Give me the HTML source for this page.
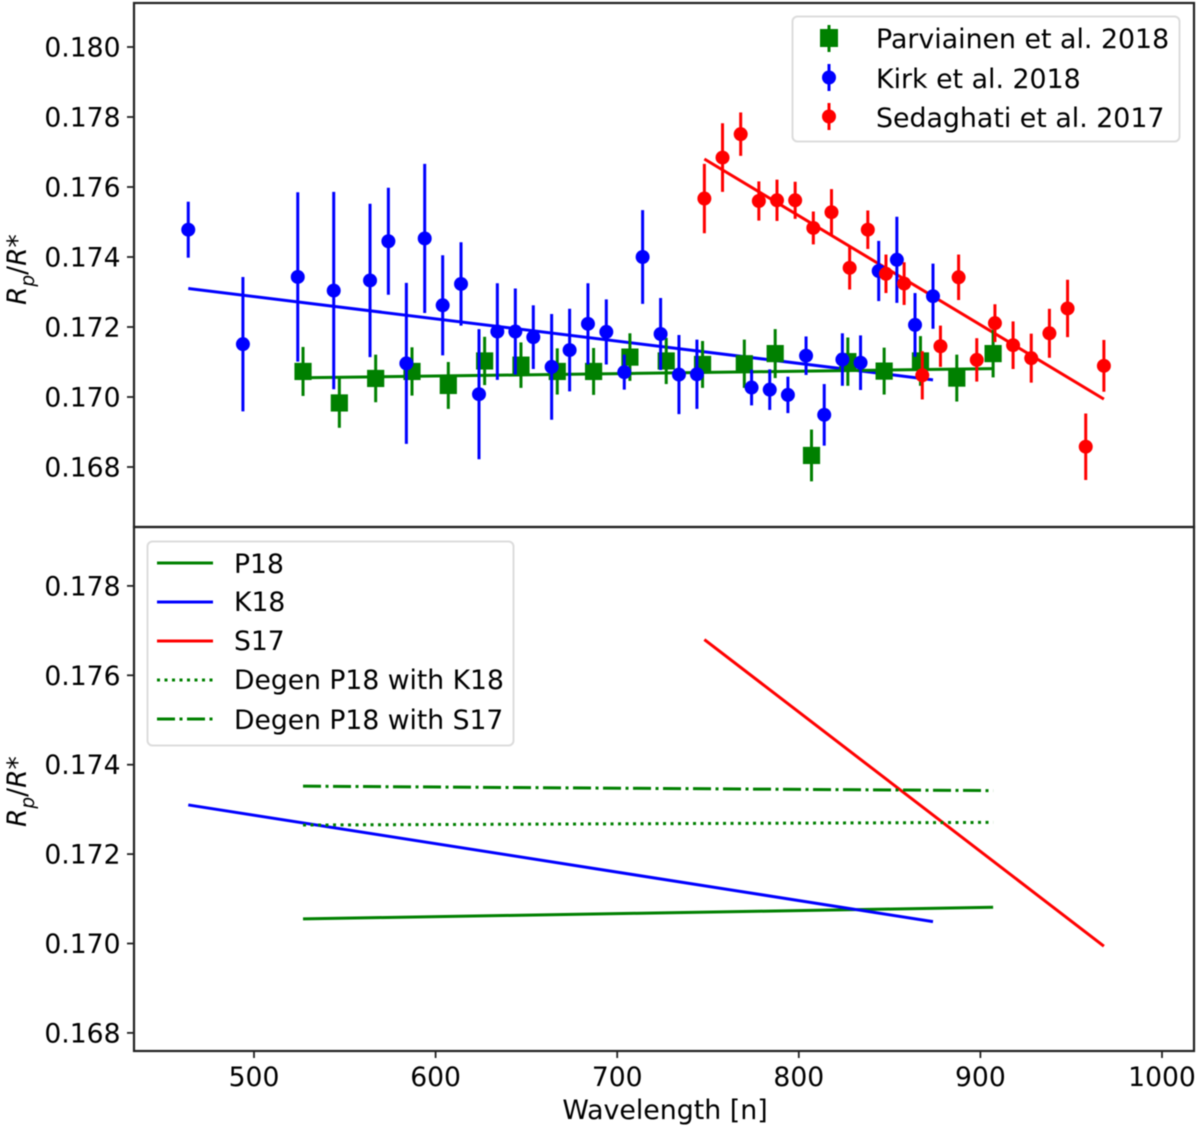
<!DOCTYPE html>
<html lang="en">
<head>
<meta charset="utf-8">
<title>Rp/R* vs wavelength</title>
<style>
html,body{margin:0;padding:0;background:#fff;}
svg{display:block;filter:blur(0.45px);}
text{font-family:"DejaVu Sans","Liberation Sans",sans-serif;fill:#000;}
</style>
</head>
<body>
<svg id="chart" xmlns="http://www.w3.org/2000/svg" width="1200" height="1131" viewBox="0 0 1200 1131">
  <rect x="0" y="0" width="1200" height="1131" fill="#fff"/>
  <g id="top-marks"></g>
  <g id="bottom-marks"></g>
  <g id="axes"></g>

  <text transform="translate(26,305) rotate(-90)" font-size="26.5" font-style="italic">R<tspan font-size="18.5" dy="8">p</tspan><tspan dy="-8" font-style="normal">/</tspan>R<tspan dy="0" font-style="normal">*</tspan></text>
  <text transform="translate(26,827) rotate(-90)" font-size="26.5" font-style="italic">R<tspan font-size="18.5" dy="8">p</tspan><tspan dy="-8" font-style="normal">/</tspan>R<tspan dy="0" font-style="normal">*</tspan></text>
  <text x="665" y="1119" font-size="26.8" text-anchor="middle">Wavelength [n]</text>

  <g>
    <rect x="792.5" y="16.5" width="387" height="125" rx="5" fill="#fff" fill-opacity="0.85" stroke="#dcdcdc" stroke-width="2"/>
    <g>
      <line x1="829" y1="25" x2="829" y2="52" stroke="#008000" stroke-width="3"/>
      <rect x="820" y="29" width="18" height="18" fill="#008000"/>
      <text x="876" y="48" font-size="26.8">Parviainen et al. 2018</text>
    </g>
    <g>
      <line x1="829" y1="64" x2="829" y2="91" stroke="#0000ff" stroke-width="3"/>
      <circle cx="829" cy="77.5" r="7" fill="#0000ff"/>
      <text x="876" y="88" font-size="26.8">Kirk et al. 2018</text>
    </g>
    <g>
      <line x1="829" y1="103" x2="829" y2="130" stroke="#ff0000" stroke-width="3"/>
      <circle cx="829" cy="116.5" r="7" fill="#ff0000"/>
      <text x="876" y="127" font-size="26.8">Sedaghati et al. 2017</text>
    </g>
  </g>

  <g>
    <rect x="147.5" y="541.5" width="366" height="204" rx="5" fill="#fff" fill-opacity="0.85" stroke="#dcdcdc" stroke-width="2"/>
    <g>
      <line x1="157" y1="563" x2="213" y2="563" stroke="#008000" stroke-width="3"/>
      <text x="234" y="573" font-size="26.6">P18</text>
    </g>
    <g>
      <line x1="157" y1="602" x2="213" y2="602" stroke="#0000ff" stroke-width="3"/>
      <text x="234" y="611" font-size="26.6">K18</text>
    </g>
    <g>
      <line x1="157" y1="641" x2="213" y2="641" stroke="#ff0000" stroke-width="3"/>
      <text x="234" y="650" font-size="26.6">S17</text>
    </g>
    <g>
      <line x1="157" y1="680" x2="213" y2="680" stroke="#008000" stroke-width="3" stroke-dasharray="3 4.5"/>
      <text x="234" y="689" font-size="26.6">Degen P18 with K18</text>
    </g>
    <g>
      <line x1="157" y1="719" x2="213" y2="719" stroke="#008000" stroke-width="3" stroke-dasharray="18 4.5 3 4.5"/>
      <text x="234" y="729" font-size="26.6">Degen P18 with S17</text>
    </g>
  </g>
</svg>

<script>
// ---- Tick labels ----
const xTickValues = [500, 600, 700, 800, 900, 1000];
const xTickLabels = ["500", "600", "700", "800", "900", "1000"];
const topYTickValues = [0.168, 0.170, 0.172, 0.174, 0.176, 0.178, 0.180];
const topYTickLabels = ["0.168", "0.170", "0.172", "0.174", "0.176", "0.178", "0.180"];
const bottomYTickValues = [0.168, 0.170, 0.172, 0.174, 0.176, 0.178];
const bottomYTickLabels = ["0.168", "0.170", "0.172", "0.174", "0.176", "0.178"];

// ---- Parviainen et al. 2018 ----
const p18Wavelengths = [527,547,567,587,607,627,647,667,687,707,727,747,770,787,807,827,847,867,887,907];
const p18Values = [0.17073,0.16983,0.17053,0.17073,0.17033,0.17103,0.17091,0.17073,0.17073,0.17114,0.17103,0.17093,0.17095,0.17124,0.16833,0.17101,0.17074,0.17103,0.17054,0.17124];
const p18Errors = [0.0007,0.00071,0.00068,0.00069,0.00067,0.00069,0.00065,0.00066,0.00067,0.00068,0.00066,0.00067,0.00069,0.0007,0.00074,0.00069,0.00067,0.00071,0.00067,0.00068];

// ---- Kirk et al. 2018 ----
const k18Wavelengths = [463.8,493.9,524.1,543.9,563.9,574,583.9,594,603.9,614,623.9,634,643.9,653.8,663.9,673.8,683.9,694,703.9,714,723.9,734,743.9,774,784,794,804,814,824,834,844,854,864,873.9];
const k18Values = [0.17478,0.17151,0.17343,0.17304,0.17333,0.17445,0.17096,0.17453,0.17262,0.17323,0.17008,0.17187,0.17187,0.17171,0.17086,0.17134,0.17209,0.17186,0.17071,0.174,0.1718,0.17064,0.17065,0.17027,0.17021,0.17006,0.17118,0.16949,0.17107,0.17098,0.1736,0.17392,0.17206,0.17288];
const k18Errors = [0.0008,0.00192,0.00242,0.00282,0.00219,0.00153,0.0023,0.00213,0.00143,0.00119,0.00186,0.00138,0.00123,0.00091,0.00151,0.00118,0.00116,0.00093,0.0005,0.00134,0.00103,0.00113,0.00099,0.00051,0.00058,0.00052,0.00055,0.00088,0.00075,0.00078,0.00086,0.00123,0.00091,0.00093];

// ---- Sedaghati et al. 2017 ----
const s17Wavelengths = [748,758,768,778,788,798,808,818,828,838,848,858,868,878,888,898,908,918,928,938,948,958,968];
const s17Values = [0.17567,0.17684,0.17751,0.1756,0.17562,0.17562,0.17483,0.17528,0.17369,0.17478,0.17352,0.17324,0.17062,0.17145,0.17342,0.17106,0.17211,0.17148,0.17111,0.17182,0.17253,0.16858,0.17089];
const s17Errors = [0.00099,0.00098,0.00062,0.00056,0.00059,0.00053,0.00047,0.00066,0.00062,0.00055,0.00055,0.00061,0.00069,0.00059,0.00065,0.00062,0.00054,0.00068,0.0007,0.0007,0.00082,0.00095,0.00074];

// ---- Fitted lines (start and end of each) ----
const p18FitWavelengths = [527, 907];
const p18FitValues = [0.17055, 0.17081];
const k18FitWavelengths = [463.8, 873.9];
const k18FitValues = [0.1731, 0.17049];
const s17FitWavelengths = [748, 968];
const s17FitValues = [0.17680, 0.16994];
const degenK18Wavelengths = [527, 907];
const degenK18Values = [0.17265, 0.17271];
const degenS17Wavelengths = [527, 907];
const degenS17Values = [0.17352, 0.17342];

// ---- Axis functions ----
const xScale = function (w) { return 254 + (w - 500) * 1.816; };
const yTop = function (v) { return 397 - (v - 0.170) * 35000; };
const yBottom = function (v) { return 943.5 - (v - 0.170) * 44700; };

const NS = "http://www.w3.org/2000/svg";
const topMarks = document.getElementById("top-marks");
const bottomMarks = document.getElementById("bottom-marks");
const axes = document.getElementById("axes");

function make(tag, attrs, parent) {
  const el = document.createElementNS(NS, tag);
  for (const k in attrs) { el.setAttribute(k, attrs[k]); }
  parent.appendChild(el);
  return el;
}

function drawLine(parent, wl, vals, yFn, color, name, dash) {
  const attrs = { x1: xScale(wl[0]), y1: yFn(vals[0]), x2: xScale(wl[1]), y2: yFn(vals[1]), stroke: color, "stroke-width": 3 };
  if (dash) { attrs["stroke-dasharray"] = dash; }
  const el = make("line", attrs, parent);
  
  
}

function drawSeries(wl, vals, errs, color, square, name) {
  const g = make("g", {}, topMarks);
  
  
  for (let i = 0; i < wl.length; i++) {
    const px = xScale(wl[i]);
    const py = yTop(vals[i]);
    const bar = make("line", { x1: px, x2: px, y1: yTop(vals[i] + errs[i]), y2: yTop(vals[i] - errs[i]), stroke: color, "stroke-width": 3 }, g);
    
    
    const mark = square
      ? make("rect", { x: px - 8.6, y: py - 8.6, width: 17.2, height: 17.2, fill: color }, g)
      : make("circle", { cx: px, cy: py, r: 7, fill: color }, g);
    
    
  }
}

// ---- Top panel ----
drawLine(topMarks, k18FitWavelengths, k18FitValues, yTop, "#0000ff", "k18-fit-line");
drawLine(topMarks, s17FitWavelengths, s17FitValues, yTop, "#ff0000", "s17-fit-line");
drawLine(topMarks, p18FitWavelengths, p18FitValues, yTop, "#008000", "p18-fit-line");
drawSeries(p18Wavelengths, p18Values, p18Errors, "#008000", true, "parviainen-2018-series");
drawSeries(k18Wavelengths, k18Values, k18Errors, "#0000ff", false, "kirk-2018-series");
drawSeries(s17Wavelengths, s17Values, s17Errors, "#ff0000", false, "sedaghati-2017-series");

// ---- Bottom panel ----
drawLine(bottomMarks, p18FitWavelengths, p18FitValues, yBottom, "#008000", "p18-line");
drawLine(bottomMarks, k18FitWavelengths, k18FitValues, yBottom, "#0000ff", "k18-line");
drawLine(bottomMarks, s17FitWavelengths, s17FitValues, yBottom, "#ff0000", "s17-line");
drawLine(bottomMarks, degenK18Wavelengths, degenK18Values, yBottom, "#008000", "degen-p18-k18-line", "3 4.5");
drawLine(bottomMarks, degenS17Wavelengths, degenS17Values, yBottom, "#008000", "degen-p18-s17-line", "18 4.5 3 4.5");

// ---- Frames ----
const frameTop = make("rect", { x: 134, y: 3, width: 1060, height: 524, fill: "none", stroke: "#222", "stroke-width": 2.2 }, axes);


const frameBottom = make("rect", { x: 134, y: 527, width: 1060, height: 524, fill: "none", stroke: "#222", "stroke-width": 2.2 }, axes);



// ---- Ticks ----
function drawYTicks(values, labels, yFn, name) {
  for (let i = 0; i < values.length; i++) {
    const py = yFn(values[i]);
    const tick = make("line", { x1: 127, x2: 134, y1: py, y2: py, stroke: "#222", "stroke-width": 1.8 }, axes);
    
    
    const label = make("text", { x: 120.5, y: py + 9.5, "font-size": 26.6, "text-anchor": "end" }, axes);
    label.textContent = labels[i];
    
    
  }
}
drawYTicks(topYTickValues, topYTickLabels, yTop, "top-y");
drawYTicks(bottomYTickValues, bottomYTickLabels, yBottom, "bottom-y");

for (let i = 0; i < xTickValues.length; i++) {
  const px = xScale(xTickValues[i]);
  const tick = make("line", { x1: px, x2: px, y1: 1051, y2: 1058, stroke: "#222", "stroke-width": 1.8 }, axes);
  
  
  const label = make("text", { x: px, y: 1086, "font-size": 26.6, "text-anchor": "middle" }, axes);
  label.textContent = xTickLabels[i];
  
  
}
</script>
</body>
</html>
